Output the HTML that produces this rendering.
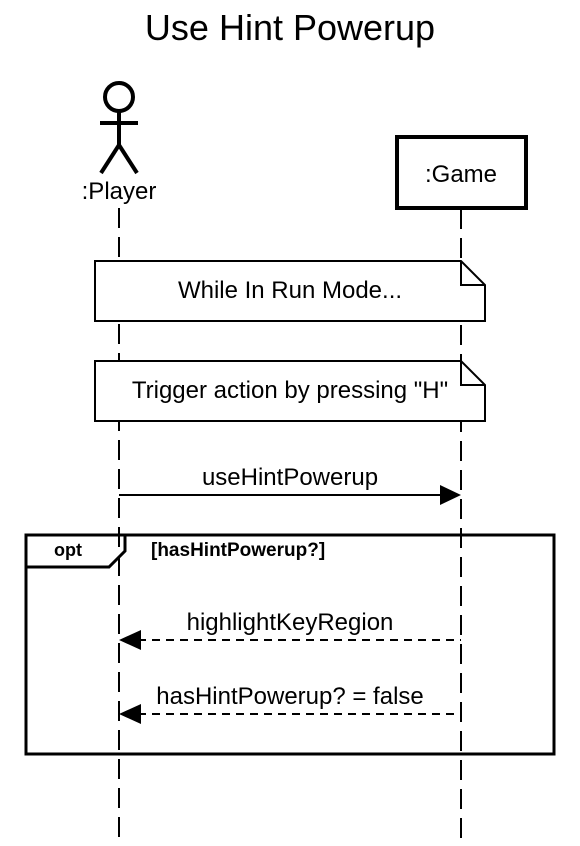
<!DOCTYPE html>
<html><head><meta charset="utf-8"><style>html,body{margin:0;padding:0;background:#fff}svg{display:block}</style></head>
<body>
<svg width="580" height="846" viewBox="0 0 580 846" xmlns="http://www.w3.org/2000/svg" font-family="Liberation Sans, Arial, sans-serif">
<rect width="580" height="846" fill="#fff"/>
<text x="290" y="40" font-size="36" text-anchor="middle">Use Hint Powerup</text>
<line x1="119" y1="208" x2="119" y2="840" stroke="#000" stroke-width="2" stroke-dasharray="20,9"/>
<line x1="461" y1="209" x2="461" y2="840" stroke="#000" stroke-width="2" stroke-dasharray="20,9"/>
<g stroke="#000" stroke-width="4" fill="none">
<circle cx="119" cy="97" r="14"/>
<line x1="119" y1="111" x2="119" y2="145"/>
<line x1="100" y1="123" x2="138" y2="123"/>
<line x1="119" y1="145" x2="101" y2="173"/>
<line x1="119" y1="145" x2="137" y2="173"/>
</g>
<text x="119" y="199" font-size="24" text-anchor="middle">:Player</text>
<rect x="397" y="137" width="129" height="71" fill="#fff" stroke="#000" stroke-width="4"/>
<text x="461" y="182" font-size="24" text-anchor="middle">:Game</text>
<path d="M95,261 H461 L485,285 V321 H95 Z" fill="#fff" stroke="#000" stroke-width="2"/>
<path d="M461,261 V285 H485" fill="none" stroke="#000" stroke-width="2"/>
<text x="290" y="298" font-size="24" text-anchor="middle">While In Run Mode...</text>
<path d="M95,361 H461 L485,385 V421 H95 Z" fill="#fff" stroke="#000" stroke-width="2"/>
<path d="M461,361 V385 H485" fill="none" stroke="#000" stroke-width="2"/>
<text x="290" y="398" font-size="24" text-anchor="middle">Trigger action by pressing "H"</text>
<text x="290" y="485" font-size="24" text-anchor="middle">useHintPowerup</text>
<line x1="119" y1="495" x2="442" y2="495" stroke="#000" stroke-width="2"/>
<polygon points="440,485 461,495 440,505" fill="#000"/>
<rect x="26" y="535" width="528" height="219" fill="none" stroke="#000" stroke-width="3"/>
<path d="M26,567 H109 L125,551 V535" fill="none" stroke="#000" stroke-width="3"/>
<text x="68" y="556" font-size="18" font-weight="bold" text-anchor="middle">opt</text>
<text x="151" y="556" font-size="19" font-weight="bold">[hasHintPowerup?]</text>
<text x="290" y="630" font-size="24" text-anchor="middle">highlightKeyRegion</text>
<line x1="138" y1="640" x2="461" y2="640" stroke="#000" stroke-width="2" stroke-dasharray="8,6"/>
<polygon points="141,630 119,640 141,650" fill="#000"/>
<text x="290" y="704" font-size="24" text-anchor="middle">hasHintPowerup? = false</text>
<line x1="138" y1="714" x2="461" y2="714" stroke="#000" stroke-width="2" stroke-dasharray="8,6"/>
<polygon points="141,704 119,714 141,724" fill="#000"/>
</svg>
</body></html>
